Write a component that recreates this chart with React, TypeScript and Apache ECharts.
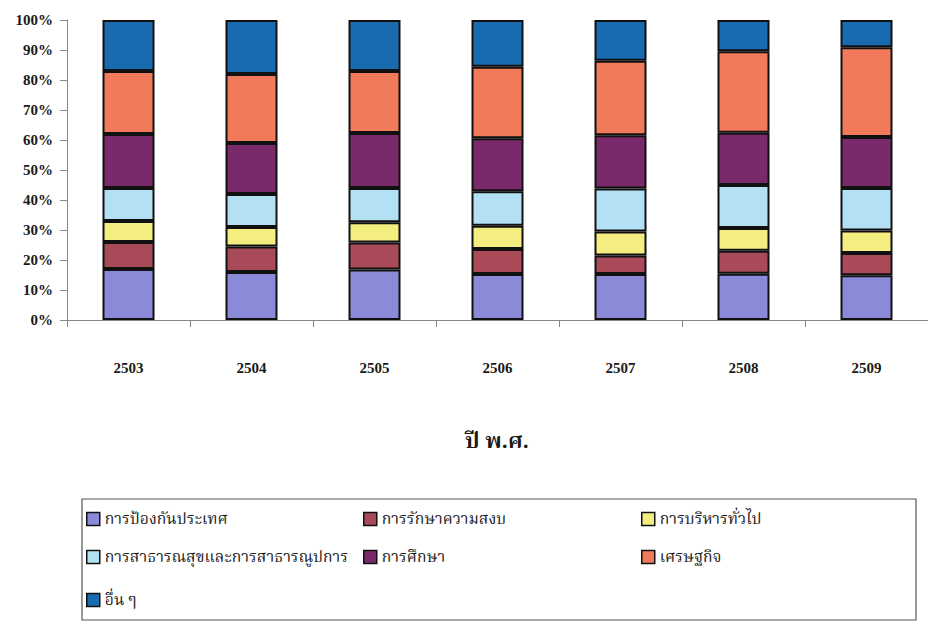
import React, { useEffect, useRef } from "react";
import * as echarts from "echarts";

const years = ["2503", "2504", "2505", "2506", "2507", "2508", "2509"];
const seriesNames = [
  "การป้องกันประเทศ",
  "การรักษาความสงบ",
  "การบริหารทั่วไป",
  "การสาธารณสุขและการสาธารณูปการ",
  "การศึกษา",
  "เศรษฐกิจ",
  "อื่น ๆ",
];
const defence = [17.0, 16.0, 16.8, 15.3, 15.3, 15.4, 14.9];
const peace = [9.0, 8.5, 9.0, 8.4, 6.2, 7.7, 7.4];
const admin = [7.0, 6.5, 6.8, 7.7, 8.0, 7.6, 7.5];
const health = [11.0, 11.0, 11.4, 11.5, 14.3, 14.3, 14.2];
const education = [18.0, 17.0, 18.3, 17.7, 17.8, 17.4, 17.0];
const economy = [21.0, 23.0, 20.7, 23.8, 24.8, 27.2, 29.9];
const others = [17.0, 18.0, 17.0, 15.6, 13.6, 10.4, 9.1];
const yTicks = ["0%", "10%", "20%", "30%", "40%", "50%", "60%", "70%", "80%", "90%", "100%"];

const allValues = [defence, peace, admin, health, education, economy, others];
const colors = ["#8a8ad8", "#a84a58", "#f4ee80", "#b4e0f4", "#7a2a6a", "#f07a5a", "#1a6ab0"];

const serif = "'Liberation Serif', 'DejaVu Serif', serif";
const thai = "'Noto Serif Thai', 'Noto Sans Thai', 'Loma', 'Garuda', 'Liberation Serif', serif";

// legend slot positions [left, centerY]
const legendSlots = [
  [86, 520],
  [363, 520],
  [641, 520],
  [86, 558],
  [363, 558],
  [641, 558],
  [86, 601],
];

export default function App() {
  const ref = useRef<HTMLDivElement>(null);
  useEffect(() => {
    if (!ref.current) return;
    const chart = echarts.init(ref.current, undefined, { renderer: "svg" });
    const option: any = {
      animation: false,
      backgroundColor: "#ffffff",
      grid: { left: 67, right: -6, top: 20, height: 300 },
      xAxis: {
        type: "category",
        data: years,
        axisLine: { show: true, lineStyle: { color: "#888", width: 1 } },
        axisTick: { show: true, length: 7, lineStyle: { color: "#888" } },
        axisLabel: {
          margin: 40,
          fontFamily: serif,
          fontWeight: "bold",
          fontSize: 15,
          color: "#1a1a1a",
        },
      },
      yAxis: {
        type: "value",
        min: 0,
        max: 100,
        interval: 10,
        axisLine: { show: true, lineStyle: { color: "#888", width: 1 } },
        axisTick: { show: true, length: 7, lineStyle: { color: "#888" } },
        splitLine: { show: false },
        axisLabel: {
          margin: 14,
          fontFamily: serif,
          fontWeight: "bold",
          fontSize: 15,
          color: "#1a1a1a",
          formatter: (v: number) => yTicks[Math.round(v / 10)],
        },
      },
      legend: seriesNames.map((n, i) => ({
        data: [n],
        left: legendSlots[i][0],
        top: legendSlots[i][1] - 9,
        icon: "rect",
        itemWidth: 13,
        itemHeight: 13,
        itemGap: 0,
        padding: 0,
        selectedMode: false,
        itemStyle: { borderColor: "#111", borderWidth: 1.5 },
        textStyle: { fontFamily: thai, fontSize: 15.7, color: "#1a1a1a", padding: [0, 0, 0, 0] },
      })),
      graphic: [
        {
          type: "rect",
          shape: { x: 82, y: 499, width: 834, height: 121 },
          style: { fill: "none", stroke: "#555", lineWidth: 1.2 },
          silent: true,
        },
        {
          type: "text",
          x: 497,
          y: 442,
          style: {
            text: "ปี พ.ศ.",
            fontFamily: thai,
            fontWeight: "bold",
            fontSize: 22,
            fill: "#1a1a1a",
            textAlign: "center",
            textVerticalAlign: "middle",
          },
        },
      ],
      series: seriesNames.map((n, i) => ({
        name: n,
        type: "bar",
        stack: "total",
        barWidth: 52,
        data: allValues[i],
        itemStyle: { color: colors[i], borderColor: "#111", borderWidth: 2 },
      })),
    };
    chart.setOption(option);
    return () => chart.dispose();
  }, []);
  return (
    <div
      ref={ref}
      style={{ position: "fixed", left: 0, top: 0, width: 928, height: 637, background: "#fff" }}
    />
  );
}
